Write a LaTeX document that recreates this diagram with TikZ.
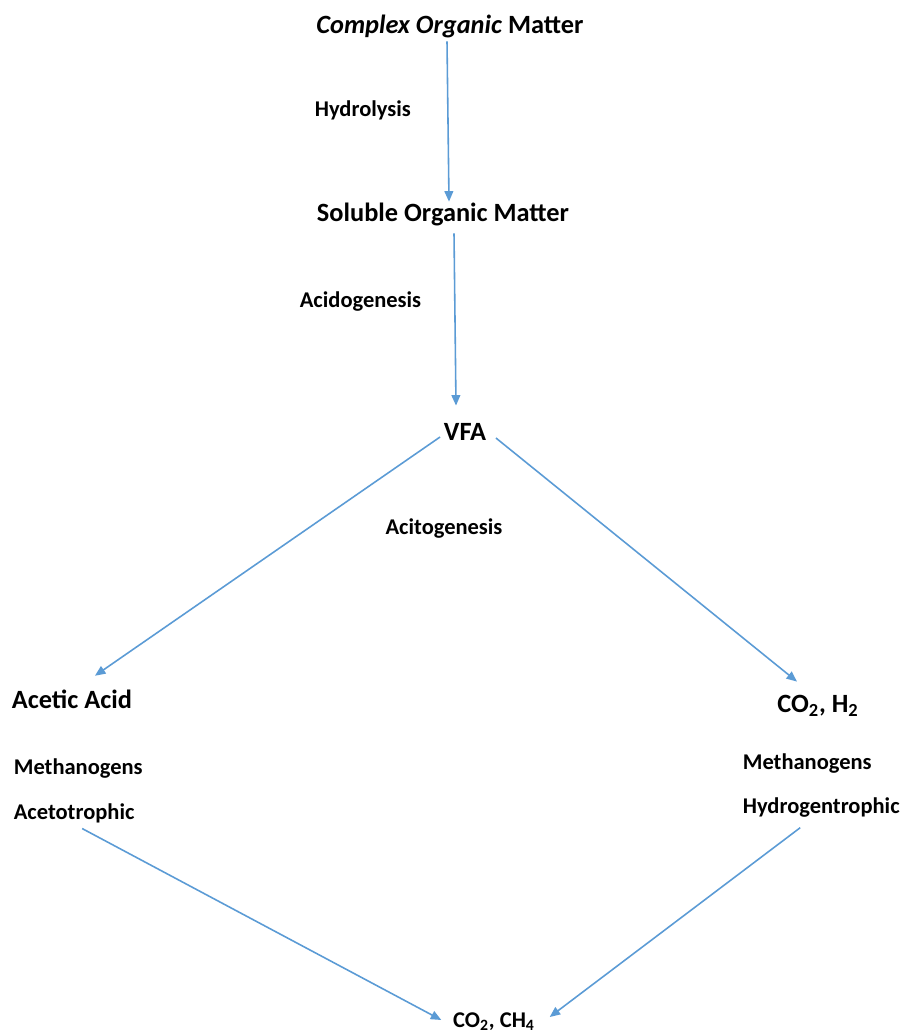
\documentclass[tikz,border=0pt]{standalone}
\usepackage{fontspec}
\setmainfont{Carlito}
\usetikzlibrary{arrows.meta,positioning,calc}
\definecolor{flowblue}{RGB}{91,155,213}

\begin{document}
\begin{tikzpicture}[
  x=0.02cm, y=-0.02cm,
  every node/.style={font=\bfseries\fontsize{12.8}{15}\selectfont, inner sep=2pt},
  stage/.style={font=\bfseries\fontsize{15}{17}\selectfont},
  flow/.style={->, draw=flowblue, line width=0.9pt},
  >={Triangle[length=6pt,width=5pt]}
]

\useasboundingbox (0,0) rectangle (904,1034);

% Nodes (substances)
\node[stage] (com) at (450,26) {\textit{Complex Organic} Matter};
\node[stage] (sol) at (443,214) {Soluble Organic Matter};
\node[stage] (vfa) at (465,432) {VFA};
\node[stage, anchor=west] (acid) at (8,699) {Acetic Acid};
\node[stage] (coh) at (818,706) {CO\textsubscript{2}, H\textsubscript{2}};
\node (coch) at (494,1022) {CO\textsubscript{2}, CH\textsubscript{4}};

% Nodes (steps)
\node[anchor=west] (hyd) at (311,110) {Hydrolysis};
\node[anchor=west] (acido) at (296,302) {Acidogenesis};
\node (acito) at (444,529) {Acitogenesis};
\node[anchor=west] (methl) at (10,769) {Methanogens};
\node[anchor=west] (aceto) at (10,813) {Acetotrophic};
\node[anchor=west] (methr) at (739,764) {Methanogens};
\node[anchor=west] (hydro) at (739,808) {Hydrogentrophic};

% Arrows (steps)
\draw[flow] ($(com.south)+(-3,0)$) -- ($(com.south |- sol.north)+(-1,3)$);
\draw[flow] ($(sol.south)+(11,4)$) -- ($(vfa.north)+(-9,-14)$);
\draw[flow] ($(vfa.west)+(0,5)$) -- ($(acid.north)+(23,-10)$);
\draw[flow] ($(vfa.east)+(6,6)$) -- ($(coh.north)+(-21,-10)$);
\draw[flow] ($(aceto.south)+(8,2)$) -- ($(coch.west)+(-8,-2)$);
\draw[flow] ($(hydro.south)+(-21,6)$) -- ($(coch.east)+(11,-5)$);

\end{tikzpicture}
\end{document}
